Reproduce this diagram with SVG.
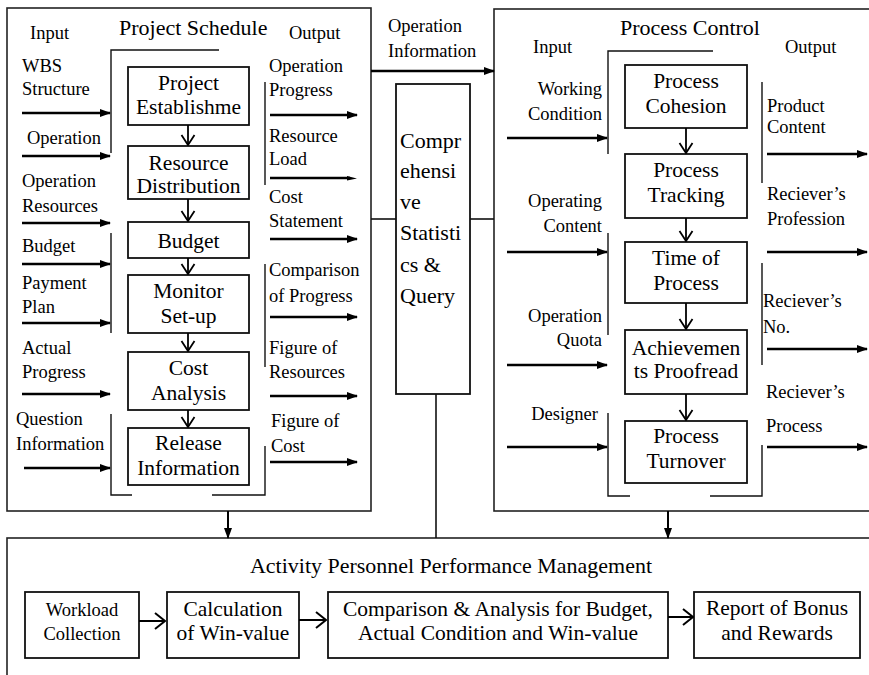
<svg xmlns="http://www.w3.org/2000/svg" width="869" height="675" viewBox="0 0 869 675" font-family="'Liberation Serif', 'Times New Roman', Times, 'DejaVu Serif', serif">
<defs>
<style>
text{font-family:'Liberation Serif','Times New Roman',Times,'DejaVu Serif',serif;fill:#000}
.lb{font-size:18.5px}
.tt{font-size:22px}
.bx{font-size:21.5px;text-anchor:middle}
.r{text-anchor:end}
.frame{fill:none;stroke:#222;stroke-width:1.6}
.box{fill:#fff;stroke:#111;stroke-width:1.8}
.br{fill:none;stroke:#111;stroke-width:1.4}
.ar{stroke:#000;stroke-width:2.6;fill:none;marker-end:url(#fa)}
.ln{stroke:#111;stroke-width:1.6;fill:none}
.va{stroke:#000;stroke-width:1.8;fill:none;marker-end:url(#vo)}
.ho{stroke:#000;stroke-width:2;fill:none;marker-end:url(#ho)}
</style>
<marker id="fa" viewBox="0 0 11 8" refX="10" refY="4" markerWidth="11" markerHeight="8" orient="auto" markerUnits="userSpaceOnUse"><path d="M0,0 L11,4 L0,8 z" fill="#000"/></marker>
<marker id="vo" viewBox="-1 -8 12 16" refX="10" refY="0" markerWidth="12" markerHeight="16" orient="auto" markerUnits="userSpaceOnUse"><path d="M0,-6.5 L10,0 L0,6.5" fill="none" stroke="#000" stroke-width="1.8"/></marker>
<marker id="ho" viewBox="-1 -10 12 20" refX="10" refY="0" markerWidth="12" markerHeight="20" orient="auto" markerUnits="userSpaceOnUse"><path d="M0,-8 L10,0 L0,8" fill="none" stroke="#000" stroke-width="2"/></marker>
</defs>
<rect width="869" height="675" fill="#fff"/>

<g id="project-schedule">
<rect class="frame" x="7" y="8" width="364" height="503"/>
<text class="tt" x="119" y="35">Project Schedule</text>
<text class="lb" x="30" y="39">Input</text>
<text class="lb" x="289" y="39">Output</text>
<polyline class="br" points="219,50 111,50 111,153"/>
<line class="br" x1="111" y1="233" x2="111" y2="333"/>
<polyline class="br" points="111,414 111,495 132,495"/>
<polyline class="br" points="212,495 265,495 265,446"/>
<line class="br" x1="265" y1="82" x2="265" y2="185"/>
<line class="br" x1="265" y1="264" x2="265" y2="367"/>
<text class="lb" x="22" y="72">WBS</text>
<text class="lb" x="22" y="95">Structure</text>
<text class="lb" x="27" y="144">Operation</text>
<text class="lb" x="22" y="187">Operation</text>
<text class="lb" x="22" y="212">Resources</text>
<text class="lb" x="22" y="252">Budget</text>
<text class="lb" x="22" y="289">Payment</text>
<text class="lb" x="22" y="313">Plan</text>
<text class="lb" x="22" y="354">Actual</text>
<text class="lb" x="22" y="378">Progress</text>
<text class="lb" x="16" y="425">Question</text>
<text class="lb" x="16" y="450">Information</text>
<text class="lb" x="269" y="72">Operation</text>
<text class="lb" x="269" y="96">Progress</text>
<text class="lb" x="269" y="142">Resource</text>
<text class="lb" x="269" y="165">Load</text>
<text class="lb" x="269" y="203">Cost</text>
<text class="lb" x="269" y="227">Statement</text>
<text class="lb" x="269" y="276">Comparison</text>
<text class="lb" x="269" y="302">of Progress</text>
<text class="lb" x="269" y="354">Figure of</text>
<text class="lb" x="269" y="378">Resources</text>
<text class="lb" x="271" y="427">Figure of</text>
<text class="lb" x="271" y="452">Cost</text>
</g>

<g id="ps-project-establishment"><rect class="box" x="128" y="67" width="121" height="58"/><text class="bx" x="188.5" y="90">Project</text><text class="bx" x="188.5" y="114">Establishme</text></g>
<g id="ps-resource-distribution"><rect class="box" x="128" y="146" width="121" height="53"/><text class="bx" x="188.5" y="170">Resource</text><text class="bx" x="188.5" y="193">Distribution</text></g>
<g id="ps-budget"><rect class="box" x="128" y="222" width="121" height="36"/><text class="bx" x="188.5" y="248">Budget</text></g>
<g id="ps-monitor"><rect class="box" x="128" y="275" width="121" height="58"/><text class="bx" x="188.5" y="298">Monitor</text><text class="bx" x="188.5" y="323">Set-up</text></g>
<g id="ps-cost-analysis"><rect class="box" x="128" y="352" width="121" height="58"/><text class="bx" x="188.5" y="375">Cost</text><text class="bx" x="188.5" y="400">Analysis</text></g>
<g id="ps-release"><rect class="box" x="128" y="428" width="121" height="57"/><text class="bx" x="188.5" y="450">Release</text><text class="bx" x="188.5" y="475">Information</text></g>

<g id="statistics-query">
<rect class="box" x="396" y="84" width="74" height="310"/>
<text class="tt" x="400" y="148">Compr</text>
<text class="tt" x="400" y="178">ehensi</text>
<text class="tt" x="400" y="209">ve</text>
<text class="tt" x="400" y="240">Statisti</text>
<text class="tt" x="400" y="272">cs &amp;</text>
<text class="tt" x="400" y="303">Query</text>
</g>
<g id="op-info-label">
<text class="lb" x="388" y="32">Operation</text>
<text class="lb" x="388" y="57">Information</text>
</g>

<g id="process-control">
<rect class="frame" x="494" y="9" width="390" height="502"/>
<text class="tt" x="620" y="35">Process Control</text>
<text class="lb" x="533" y="53">Input</text>
<text class="lb" x="785" y="53">Output</text>
<polyline class="br" points="713,51 608,51 608,154"/>
<line class="br" x1="608" y1="233" x2="608" y2="335"/>
<polyline class="br" points="608,413 608,496 630,496"/>
<polyline class="br" points="710,496 762,496 762,445"/>
<line class="br" x1="762" y1="82" x2="762" y2="183"/>
<line class="br" x1="762" y1="263" x2="762" y2="365"/>
<text class="lb r" x="602" y="95">Working</text>
<text class="lb r" x="602" y="120">Condition</text>
<text class="lb r" x="602" y="207">Operating</text>
<text class="lb r" x="602" y="232">Content</text>
<text class="lb r" x="602" y="322">Operation</text>
<text class="lb r" x="602" y="346">Quota</text>
<text class="lb r" x="598" y="420">Designer</text>
<text class="lb" x="767" y="112">Product</text>
<text class="lb" x="767" y="133">Content</text>
<text class="lb" x="767" y="200">Reciever’s</text>
<text class="lb" x="767" y="225">Profession</text>
<text class="lb" x="763" y="307">Reciever’s</text>
<text class="lb" x="763" y="333">No.</text>
<text class="lb" x="766" y="398">Reciever’s</text>
<text class="lb" x="766" y="432">Process</text>
</g>

<g id="pc-cohesion"><rect class="box" x="625" y="65" width="122" height="63"/><text class="bx" x="686" y="88">Process</text><text class="bx" x="686" y="113">Cohesion</text></g>
<g id="pc-tracking"><rect class="box" x="625" y="154" width="122" height="64"/><text class="bx" x="686" y="177">Process</text><text class="bx" x="686" y="202">Tracking</text></g>
<g id="pc-time"><rect class="box" x="625" y="242" width="122" height="61"/><text class="bx" x="686" y="265">Time of</text><text class="bx" x="686" y="290">Process</text></g>
<g id="pc-proofread"><rect class="box" x="625" y="330" width="122" height="64"/><text class="bx" x="686" y="355">Achievemen</text><text class="bx" x="686" y="378">ts Proofread</text></g>
<g id="pc-turnover"><rect class="box" x="625" y="421" width="122" height="62"/><text class="bx" x="686" y="443">Process</text><text class="bx" x="686" y="468">Turnover</text></g>

<g id="performance-management">
<rect class="frame" x="7" y="538" width="880" height="150"/>
<text class="tt" x="250" y="573" textLength="402" lengthAdjust="spacingAndGlyphs" style="font-size:21px">Activity Personnel Performance Management</text>
</g>
<g id="pm-workload"><rect class="box" x="25" y="592" width="114" height="66"/><text class="bx" x="82" y="616" style="font-size:18.5px">Workload</text><text class="bx" x="82" y="640" style="font-size:18.5px">Collection</text></g>
<g id="pm-calculation"><rect class="box" x="167" y="592" width="132" height="66"/><text class="bx" x="233" y="616">Calculation</text><text class="bx" x="233" y="640">of Win-value</text></g>
<g id="pm-comparison"><rect class="box" x="328" y="592" width="340" height="66"/><text class="bx" x="498" y="616">Comparison &amp; Analysis for Budget,</text><text class="bx" x="498" y="640">Actual Condition and Win-value</text></g>
<g id="pm-report"><rect class="box" x="694" y="592" width="166" height="66"/><text class="bx" x="777" y="615">Report of Bonus</text><text class="bx" x="777" y="640">and Rewards</text></g>

<g id="connectors">
<line class="ar" x1="22" y1="113" x2="110" y2="113"/>
<line class="ar" x1="22" y1="156" x2="110" y2="156"/>
<line class="ar" x1="22" y1="223" x2="110" y2="223"/>
<line class="ar" x1="22" y1="264" x2="110" y2="264"/>
<line class="ar" x1="22" y1="323" x2="110" y2="323"/>
<line class="ar" x1="22" y1="394" x2="110" y2="394"/>
<line class="ar" x1="24" y1="468" x2="110" y2="468"/>
<line class="ar" x1="270" y1="115" x2="357" y2="115"/>
<line x1="270" y1="178" x2="350" y2="178" stroke="#000" stroke-width="2.6"/>
<path d="M347,176 L357,178.5 L347,180.5 z" fill="#000"/>
<line class="ar" x1="270" y1="239" x2="357" y2="239"/>
<line class="ar" x1="270" y1="317" x2="357" y2="317"/>
<line class="ar" x1="270" y1="396" x2="357" y2="396"/>
<line class="ar" x1="270" y1="462" x2="357" y2="462"/>
<line class="ar" x1="371" y1="71" x2="494" y2="71"/>
<line class="ln" x1="371" y1="219" x2="396" y2="219"/>
<line class="ln" x1="470" y1="219" x2="494" y2="219"/>
<line class="ar" x1="507" y1="138" x2="607" y2="138"/>
<line class="ar" x1="507" y1="252" x2="607" y2="252"/>
<line class="ar" x1="507" y1="365" x2="607" y2="365"/>
<line class="ar" x1="507" y1="447" x2="607" y2="447"/>
<line class="ar" x1="767" y1="154" x2="867" y2="154"/>
<line class="ar" x1="767" y1="252" x2="867" y2="252"/>
<line class="ar" x1="767" y1="349" x2="867" y2="349"/>
<line class="ar" x1="767" y1="447" x2="867" y2="447"/>
<line class="va" x1="188" y1="125" x2="188" y2="145"/>
<line class="va" x1="188" y1="199" x2="188" y2="221"/>
<line class="va" x1="188" y1="258" x2="188" y2="274"/>
<line class="va" x1="188" y1="333" x2="188" y2="351"/>
<line class="va" x1="188" y1="410" x2="188" y2="427"/>
<line class="va" x1="686" y1="128" x2="686" y2="153"/>
<line class="va" x1="686" y1="218" x2="686" y2="241"/>
<line class="va" x1="686" y1="303" x2="686" y2="329"/>
<line class="va" x1="686" y1="394" x2="686" y2="420"/>
<line class="ln" x1="436" y1="394" x2="436" y2="538"/>
<line class="ar" x1="228" y1="511" x2="228" y2="538" style="stroke-width:2"/>
<line class="ar" x1="668" y1="511" x2="668" y2="538" style="stroke-width:2"/>
<line class="ho" x1="139" y1="621" x2="165" y2="621"/>
<line class="ho" x1="299" y1="620" x2="326" y2="620"/>
<line class="ho" x1="668" y1="617" x2="693" y2="617"/>
</g>
</svg>
